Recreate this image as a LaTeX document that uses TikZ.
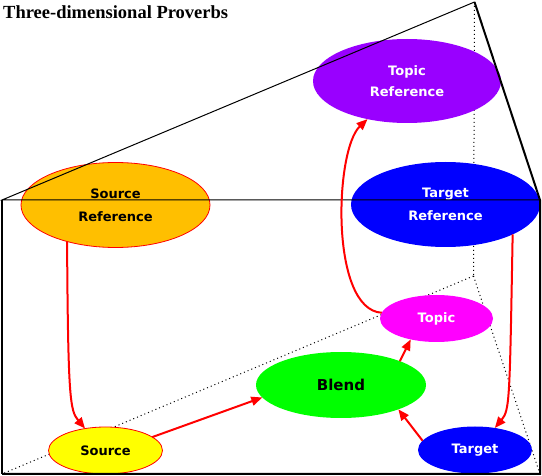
\documentclass[tikz,border=0pt]{standalone}
\usepackage{fontspec}
\setsansfont{DejaVu Sans}
\newfontfamily\titlefont{Liberation Serif}
\usetikzlibrary{shapes.geometric, arrows.meta, backgrounds}
\usepackage{xcolor}
\definecolor{topicpurple}{HTML}{9900FF}
\definecolor{srcorange}{HTML}{FFBF00}
\definecolor{tgtblue}{HTML}{0000FF}
\definecolor{topicpink}{HTML}{FF00FF}
\definecolor{blendgreen}{HTML}{00FF00}
\definecolor{srcyellow}{HTML}{FFFF00}
\definecolor{arrred}{HTML}{FF0000}

\begin{document}
\begin{tikzpicture}[
    x=1pt, y=-1pt,
    blob/.style={ellipse, inner sep=0pt, outer sep=0pt, align=center, font=\sffamily\bfseries\fontsize{13}{23}\selectfont},
    refblob/.style={blob, minimum width=189pt, minimum height=85pt},
    smallblob/.style={blob, minimum width=114pt, minimum height=47pt},
    frame/.style={line width=1pt},
    heavy/.style={line width=2pt},
    hidden/.style={line width=1pt, dash pattern=on 1pt off 3pt},
    arr/.style={-{Triangle[length=11pt, width=9pt]}, arrred, line width=2pt}
]
    \useasboundingbox (0,0) rectangle (542,476);

    % Title
    \node[anchor=base west, inner sep=0pt, font=\titlefont\bfseries\fontsize{18.5}{20}\selectfont] (title) at (3,18.5) {Three-dimensional Proverbs};

    % Prism corners
    \coordinate (ftl) at (2,200);
    \coordinate (ftr) at (540,200);
    \coordinate (fbl) at (2,474);
    \coordinate (fbr) at (540,474);
    \coordinate (apex) at (474.5,2);
    \coordinate (back) at (473.5,276);

    % Nodes
    \node[refblob, fill=topicpurple, text=white, minimum width=188pt, minimum height=84pt,
          font=\sffamily\bfseries\fontsize{13}{21}\selectfont] (topicref) at (407,81) {Topic\\Reference};
    \node[refblob, fill=srcorange, draw=arrred, line width=0.8pt] (srcref) at (115.5,205) {Source\\Reference};
    \node[refblob, fill=tgtblue, text=white] (tgtref) at (445.5,204.5) {Target\\Reference};
    \node[smallblob, fill=topicpink, text=white, minimum width=113pt] (topic) at (436.5,318.5) {Topic};
    \node[blob, fill=blendgreen, minimum width=170pt, minimum height=66pt,
          font=\sffamily\bfseries\fontsize{15}{15}\selectfont] (blend) at (341,385) {Blend};
    \node[smallblob, fill=srcyellow, draw=arrred, line width=0.8pt] (src) at (105.5,450.5) {Source};
    \node[smallblob, fill=tgtblue, text=white] (tgt) at (475,450) {Target};

    % Frame
    \draw[frame] (ftr) -- (ftl) -- (apex);
    \draw[line width=1.5pt] (ftl) -- (fbl);
    \draw[heavy] (apex) -- (ftr) -- (fbr) -- (fbl);

    % Hidden edges
    \begin{scope}[on background layer]
        \fill[white] (0,0) rectangle (542,476);
        \draw[hidden] (apex) -- (back);
        \draw[hidden] (back) -- (fbl);
        \draw[hidden] (back) -- (fbr);
    \end{scope}

    % Arrows
    \draw[arr] (srcref.-143) .. controls +(1,158) and +(-15,-18) .. (src.133);
    \draw[arr] (src.16) -- (blend.189);
    \draw[arr] (blend.22) -- (topic.-141);
    \draw[arr] (tgt.170) -- (blend.-23);
    \draw[arr] (tgtref.-24) .. controls +(-3,166) and +(15,-18) .. (tgt.48);
    \draw[arr] (topic.174) .. controls +(-52,-3) and +(-33,31) .. (topicref.-136);

\end{tikzpicture}
\end{document}
